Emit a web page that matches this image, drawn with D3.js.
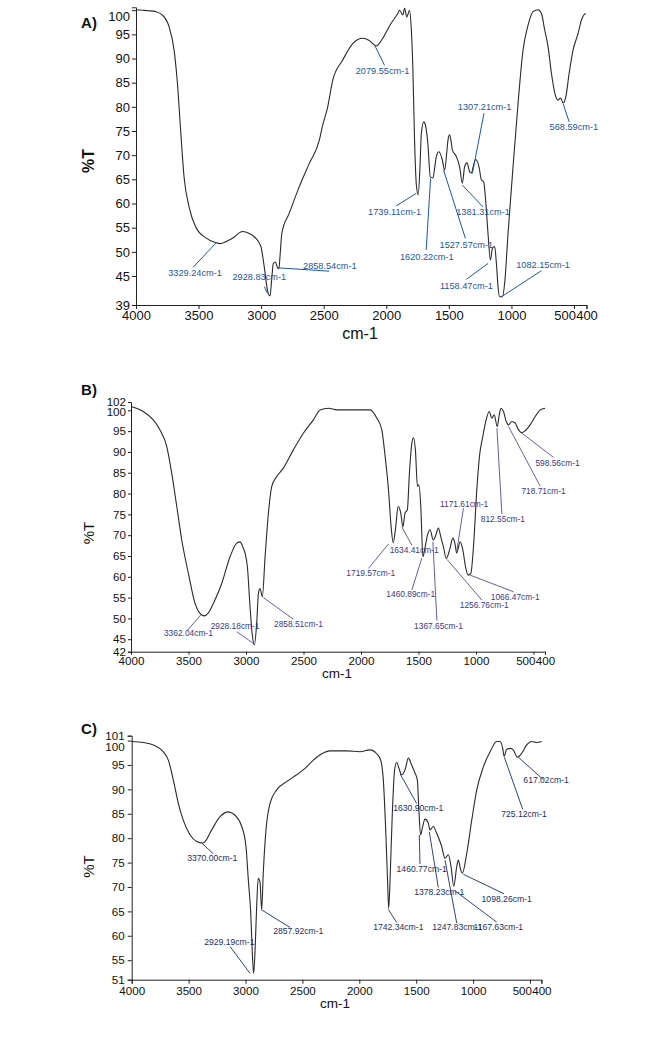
<!DOCTYPE html>
<html><head><meta charset="utf-8">
<script src="https://cdn.jsdelivr.net/npm/d3@7"></script>
<style>
body{margin:0;background:#fff}
svg{display:block}
text{font-family:"Liberation Sans",Arial,Helvetica,sans-serif}
</style>
</head><body>
<svg id="chart" width="658" height="1037"></svg>
<script>
// ---------- DATA ----------
const xTicks = [4000, 3500, 3000, 2500, 2000, 1500, 1000, 500, 400];

// Panel A
const wnA = [4000,3950,3900,3842,3789,3736,3696,3669,3642,3616,3576,3522,3442,3362,3329,3300,3229,3149,3095,3042,3002,2975,2949,2929,2915,2903,2887,2870,2858,2850,2834,2775,2695,2615,2535,2511,2468,2428,2348,2268,2188,2140,2094,2079,2060,2028,1961,1908,1894,1868,1854,1836,1814,1800,1788,1774,1760,1745,1730,1720,1700,1690,1668,1648,1627,1610,1600,1579,1552,1534,1515,1507,1494,1480,1472,1440,1414,1392,1374,1355,1334,1320,1302,1286,1259,1240,1222,1206,1187,1168,1152,1134,1120,1107,1094,1072,1054,1027,987,947,907,867,827,787,760,734,707,680,653,627,607,586,565,539,507,467,440,421,405];
const tA  = [100.1,100.0,99.9,99.7,99.0,96.6,91.8,84.9,74.6,65.5,59.3,55.1,52.9,51.9,51.7,51.9,52.8,54.2,53.8,52.8,51.1,46.9,42.0,40.9,44.5,47.6,47.9,46.8,46.5,48.8,53.9,58.0,63.5,68.3,73.1,75.9,80.0,85.5,89.7,93.1,94.2,93.8,92.8,92.6,93.0,94.2,97.3,99.3,100.0,99.0,100.4,98.6,100.0,96.0,88.3,73.1,64.0,61.8,68.0,74.5,76.9,76.5,72.5,65.5,65.3,68.0,69.7,70.7,69.0,66.9,71.0,73.1,74.2,72.5,71.1,69.7,67.6,64.2,67.6,68.4,66.6,66.3,68.0,69.1,67.6,64.9,64.5,60.7,53.8,48.3,50.7,51.1,47.6,42.8,40.7,40.7,43.5,53.8,67.6,80.7,91.8,96.9,99.7,100.1,99.3,95.9,92.4,86.9,82.8,81.4,81.8,80.8,82.1,86.9,91.8,95.2,98.0,99.0,99.3];
const yTicksA = [39,45,50,55,60,65,70,75,80,85,90,95,100];
const peaksA = ["3329.24","2928.83","2858.54","2079.55","1307.21","568.59","1739.11","1381.31","1620.22","1527.57","1158.47","1082.15"];

// Panel B
const wnB = [4000,3893,3806,3748,3689,3646,3602,3559,3501,3443,3400,3362,3330,3284,3211,3139,3080,3052,3025,3008,2988,2965,2945,2928,2907,2892,2878,2858,2834,2805,2776,2733,2675,2588,2501,2414,2356,2283,2210,2066,1921,1862,1819,1790,1761,1738,1720,1698,1677,1654,1636,1617,1597,1579,1558,1544,1527,1509,1497,1480,1462,1442,1422,1399,1372,1355,1327,1306,1283,1259,1230,1201,1184,1168,1138,1114,1091,1068,1045,1022,993,970,941,912,885,862,842,815,798,783,761,737,718,688,659,630,600,572,529,485,442,400];
const tB  = [100.9,99.7,97.7,95.3,91.3,84.9,76.9,68.9,60.8,53.6,51.2,50.6,51.2,53.6,58.4,64.8,68.1,68.4,67.0,65.7,62.4,52.8,46.0,43.6,48.8,56.0,57.2,55.2,64.8,75.3,81.7,84.1,86.1,90.5,94.5,97.7,100.1,100.5,100.1,100.1,100.1,98.1,95.3,88.9,80.9,72.0,68.2,72.0,76.9,75.3,72.0,75.3,76.1,84.9,92.1,93.4,90.5,81.7,82.1,76.9,64.8,67.2,70.0,71.3,68.8,69.6,71.7,69.6,67.2,64.4,66.4,69.3,68.1,65.7,68.4,66.4,62.4,60.4,60.8,67.2,80.9,88.9,93.7,97.7,99.7,98.1,98.9,96.1,98.9,100.5,99.7,97.3,96.5,97.3,96.9,95.3,94.6,95.1,96.5,98.5,100.1,100.5];
const yTicksB = [42,45,50,55,60,65,70,75,80,85,90,95,100,102];
const peaksB = ["3362.04","2928.18","2858.51","1719.57","1634.41","1460.89","1367.65","1171.61","1256.76","1066.47","812.55","718.71","598.56"];

// Panel C
const wnC = [4000,3898,3810,3722,3678,3634,3590,3547,3488,3429,3375,3356,3297,3224,3151,3092,3033,2996,2975,2954,2940,2929,2917,2902,2888,2873,2858,2844,2820,2785,2726,2638,2550,2477,2404,2330,2257,2228,2111,1994,1906,1847,1812,1789,1768,1752,1742,1730,1710,1690,1671,1651,1630,1598,1569,1540,1510,1490,1478,1462,1443,1423,1394,1379,1350,1320,1276,1247,1218,1194,1170,1144,1130,1109,1095,1056,1012,968,910,851,793,764,740,728,705,670,647,612,573,529,485,441,397];
const tC  = [99.8,99.6,99.1,97.7,96.0,91.9,87.1,83.7,80.7,79.3,79.0,79.3,81.7,84.4,85.4,84.7,82.4,78.3,71.4,64.6,56.4,52.3,56.4,66.0,71.8,71.1,65.3,72.8,81.7,87.1,89.9,91.6,93.0,94.3,96.0,97.3,97.9,97.9,97.9,97.7,98.1,97.3,96.0,91.9,81.7,71.4,65.6,71.4,85.1,94.0,95.5,94.3,93.0,94.0,96.4,95.0,93.3,91.9,86.5,80.7,82.4,83.9,83.1,81.7,82.4,81.0,78.3,75.9,76.6,74.2,70.1,74.2,75.5,73.5,72.8,76.9,83.7,89.9,94.6,97.7,99.8,99.8,98.4,96.8,98.2,98.4,98.1,96.6,97.4,99.1,99.8,99.6,99.8];
const yTicksC = [51,55,60,65,70,75,80,85,90,95,100,101];
const peaksC = ["3370.00","2929.19","2857.92","1630.90","1460.77","1378.23","1742.34","1247.83","1167.63","1098.26","725.12","617.02"];

// ---------- LAYOUT (annotation placement in data units: textWn, textT, lineWn1, lineT1, lineWn2, lineT2) ----------
const layA = [[3528,45.7,3362,51.8,3544,46.8],[3015,44.7,2949,41.4,2975,42.8],[2451,47.1,2871,46.7,2455,46.0],[2030,87.5,2094,92.8,2014,88.6],[1214,79.9,1312,66.2,1219,78.7],[501,75.8,587,80.7,539,76.9],[1934,58.2,1761,62.1,1921,59.5],[1227,58.2,1392,63.8,1227,59.3],[1676,48.9,1646,65.2,1681,50.4],[1360,51.4,1542,66.9,1368,52.8],[1360,43.0,1187,47.6,1360,44.3],[747,47.3,1080,40.7,760,46.1]];
const layB = [[3501,46.4,3385,51.1,3507,47.2],[3095,48.2,2936,44.0,3080,46.8],[2544,48.7,2849,55.0,2588,49.8],[1915,61.0,1761,67.9,1935,62.0],[1538,66.4,1645,72.0,1558,67.6],[1567,55.8,1471,64.5,1558,56.8],[1326,48.25,1375,68.4,1340,49.5],[1103,77.4,1166,66.4,1109,76.5],[929,53.2,1253,64.2,949,54.4],[659,55.1,1051,60.4,674,56.4],[766,73.8,818,95.7,775,75.1],[413,80.5,717,96.1,442,81.8],[291,87.3,601,94.5,326,88.7]];
const layC = [[3292,75.9,3385,79.0,3283,76.8],[3142,58.8,2960,52.3,3136,57.8],[2536,61.0,2858,65.3,2609,61.7],[1482,86.1,1642,93.2,1496,87.1],[1452,73.7,1473,80.7,1467,74.7],[1297,68.9,1385,81.3,1306,69.9],[1657,61.7,1745,65.4,1671,62.7],[1139,61.7,1247,75.5,1144,62.6],[779,61.9,1159,69.2,793,62.8],[705,67.5,1086,72.6,728,68.6],[553,84.9,726,96.6,564,85.9],[359,91.9,603,96.6,383,92.0]];

const panels = [
  {name:"A)", wn:wnA, t:tA, yTicks:yTicksA, peaks:peaksA, lay:layA,
   xr:[136,586.5], yr:[305,7.3], yd:[39,100.6],
   tickFont:13, tickSize:4, tickPad:2, top100dy:6.5,
   annFont:9.2, annWeight:"normal", annColor:"#1d56a3", lineW:1,
   letter:[89,22,15], yLab:[88,161,16,"bold"], xLab:[360,333,16]},
  {name:"B)", wn:wnB, t:tB, yTicks:yTicksB, peaks:peaksB, lay:layB,
   xr:[131,545], yr:[651.7,402], yd:[42,102],
   tickFont:11.6, tickSize:3, tickPad:2, top100dy:1.5,
   annFont:8.4, annWeight:"normal", annColor:"#3a3a86", lineW:0.8,
   letter:[89,389.5,15], yLab:[88,533,15,"normal"], xLab:[337,673.5,13.5]},
  {name:"C)", wn:wnC, t:tC, yTicks:yTicksC, peaks:peaksC, lay:layC,
   xr:[131.7,541.4], yr:[979.7,735.7], yd:[51,101],
   tickFont:11.6, tickSize:4, tickPad:3, top100dy:6,
   annFont:8.6, annWeight:"normal", annColor:"#1c2f62", lineW:0.9,
   letter:[89,728.5,15], yLab:[88,866.5,15,"normal"], xLab:[335,1003.5,13.5]}
];

const svg = d3.select("#chart");

panels.forEach(p => {
  const x = d3.scaleLinear().domain([4000,400]).range(p.xr);
  const y = d3.scaleLinear().domain(p.yd).range(p.yr);
  const g = svg.append("g");

  // x axis
  const xa = g.append("g").attr("transform", `translate(0,${p.yr[0]})`)
    .call(d3.axisBottom(x).tickValues(xTicks).tickFormat(d3.format("d"))
      .tickSize(p.tickSize).tickSizeOuter(p.tickSize).tickPadding(p.tickPad));
  xa.selectAll("text").attr("font-size", p.tickFont).attr("fill","#111")
    .filter(d => d === 500).attr("text-anchor","end").attr("dx", 1.5);

  // y axis
  const ya = g.append("g").attr("transform", `translate(${p.xr[0]},0)`)
    .call(d3.axisLeft(y).tickValues(p.yTicks).tickFormat(d3.format("d"))
      .tickSize(p.tickSize).tickSizeOuter(p.tickSize).tickPadding(p.tickPad));
  ya.selectAll("text").attr("font-size", p.tickFont).attr("fill","#111");
  ya.selectAll("text").filter(d => d === 100).attr("dy", (0.32*p.tickFont + p.top100dy) + "px");

  [xa, ya].forEach(a => {
    a.selectAll("path,line").attr("stroke","#222").attr("stroke-width",1);
    a.attr("font-family", null);
  });

  // spectrum line
  const pts = p.wn.map((w,i) => [w, p.t[i]]);
  g.append("path").datum(pts)
    .attr("fill","none").attr("stroke","#2a2a2a").attr("stroke-width",1.1)
    .attr("d", d3.line().x(d => x(d[0])).y(d => y(d[1])).curve(d3.curveMonotoneX));

  // annotations
  const ann = g.append("g");
  p.peaks.forEach((lab,i) => {
    const L = p.lay[i];
    ann.append("line")
      .attr("x1", x(L[2])).attr("y1", y(L[3]))
      .attr("x2", x(L[4])).attr("y2", y(L[5]))
      .attr("stroke", p.annColor).attr("stroke-width", p.lineW);
    ann.append("text")
      .attr("x", x(L[0])).attr("y", y(L[1]))
      .attr("text-anchor","middle").attr("dominant-baseline","central")
      .attr("font-size", p.annFont).attr("font-weight", p.annWeight)
      .attr("fill", p.annColor)
      .text(lab + "cm-1");
  });

  // panel letter
  g.append("text").attr("x", p.letter[0]).attr("y", p.letter[1])
    .attr("text-anchor","middle").attr("dominant-baseline","central")
    .attr("font-size", p.letter[2]).attr("font-weight","bold").attr("fill","#111")
    .text(p.name);

  // y label
  g.append("text")
    .attr("transform", `translate(${p.yLab[0]},${p.yLab[1]}) rotate(-90)`)
    .attr("text-anchor","middle").attr("dominant-baseline","central")
    .attr("font-size", p.yLab[2]).attr("font-weight", p.yLab[3]).attr("fill","#111")
    .text("%T");

  // x label
  g.append("text").attr("x", p.xLab[0]).attr("y", p.xLab[1])
    .attr("text-anchor","middle").attr("dominant-baseline","central")
    .attr("font-size", p.xLab[2]).attr("fill","#111")
    .text("cm-1");
});
</script>
</body></html>
